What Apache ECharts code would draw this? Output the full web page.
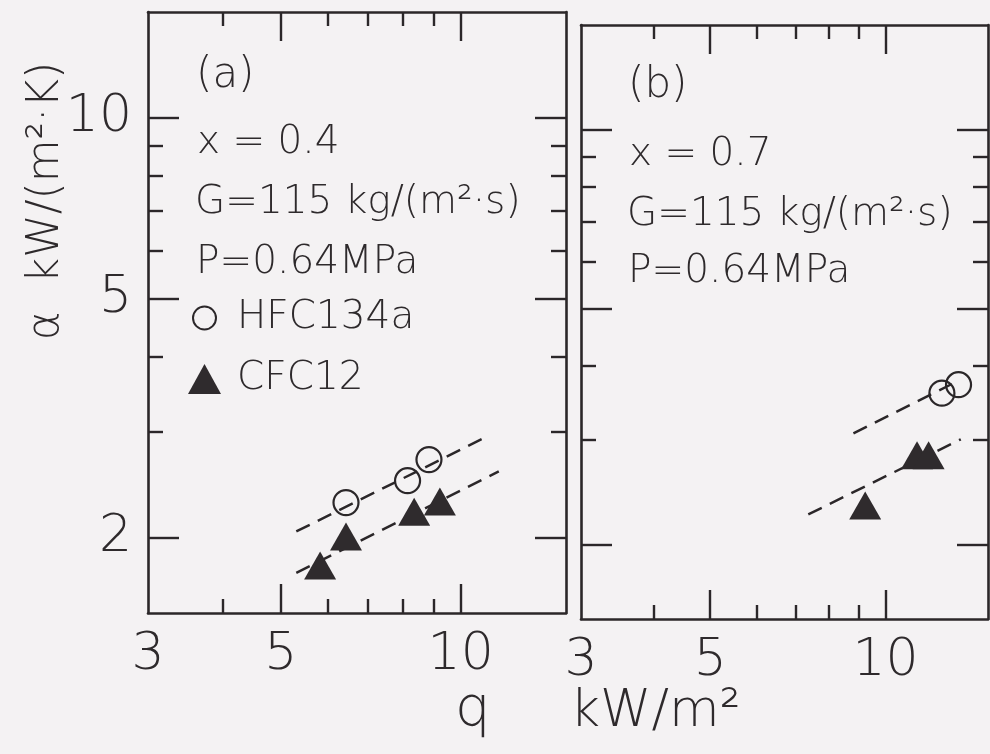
<!DOCTYPE html>
<html><head><meta charset="utf-8">
<script src="https://cdn.jsdelivr.net/npm/echarts@6/dist/echarts.min.js"></script>
<style>html,body{margin:0;padding:0;background:#f4f2f3}#c{width:990px;height:754px}</style>
</head><body><div id="c"></div><script>
// ---- data (q in kW/m2, alpha in kW/(m2 K)) ----
const hfcA_q = [6.43, 8.15, 8.85];
const hfcA_alpha = [2.29, 2.49, 2.70];
const cfcA_q = [5.82, 6.43, 8.36, 9.23];
const cfcA_alpha = [1.80, 2.01, 2.21, 2.30];
const fitHfcA_q = [5.31, 11.15];
const fitHfcA_alpha = [2.05, 2.96];
const fitCfcA_q = [5.31, 11.58];
const fitCfcA_alpha = [1.75, 2.58];
const hfcB_q = [12.5, 13.35];
const hfcB_alpha = [3.60, 3.72];
const cfcB_q = [9.23, 11.33, 11.86];
const cfcB_alpha = [2.33, 2.83, 2.83];
const fitHfcB_q = [8.81, 13.0];
const fitHfcB_alpha = [3.08, 3.73];
const fitCfcB_q = [7.37, 13.47];
const fitCfcB_alpha = [2.25, 3.01];
const xMajorTicks = [5, 10];
const xMinorTicks = [4, 6, 7, 8, 9];
const xTickLabels = [3, 5, 10];
const yMajorTicks = [2, 5, 10];
const yMinorTicks = [3, 4, 6, 7, 8, 9];
const yTickLabels = [2, 5, 10];
const qRange = [3, 15];
const alphaRange = [1.5, 15];

const FONT = "DejaVu Sans";
const FW = 200;
const INK = '#2b2729';
const TXT = '#2e2a2c';

const pairs = (a, b) => a.map((v, i) => [v, b[i]]);

const gridA = {left: 148, top: 12, width: 418, height: 601};
const gridB = {left: 581, top: 25, width: 407, height: 594};
const grids = [gridA, gridA, gridB, gridB].map(g => Object.assign({show: false, containLabel: false}, g));

const xAxes = [], yAxes = [];
function addAxes(gridIndex, major, withXLabels, withYLabels) {
  const xt = major ? xMajorTicks : xMinorTicks;
  const yt = major ? yMajorTicks : yMinorTicks;
  const xl = major ? 29 : 14;
  const yl = major ? 31 : 15;
  ['bottom', 'top'].forEach(pos => {
    const lab = withXLabels && pos === 'bottom';
    xAxes.push({
      type: 'log', logBase: 10, gridIndex, position: pos,
      min: qRange[0], max: qRange[1],
      axisLine: {show: !major, lineStyle: {color: INK, width: 2.6}},
      axisTick: {show: true, inside: true, length: xl, customValues: xt, lineStyle: {color: INK, width: 2.4}},
      axisLabel: lab ? {show: true, customValues: xTickLabels, margin: 16, fontSize: 52,
        fontFamily: FONT, fontWeight: FW, color: TXT, formatter: v => String(Math.round(v))} : {show: false},
      splitLine: {show: false}, minorTick: {show: false}
    });
  });
  ['left', 'right'].forEach(pos => {
    const lab = withYLabels && pos === 'left';
    yAxes.push({
      type: 'log', logBase: 10, gridIndex, position: pos,
      min: alphaRange[0], max: alphaRange[1],
      axisLine: {show: !major, lineStyle: {color: INK, width: 2.6}},
      axisTick: {show: true, inside: true, length: yl, customValues: yt, lineStyle: {color: INK, width: 2.4}},
      axisLabel: lab ? {show: true, customValues: yTickLabels, margin: 16, fontSize: 52,
        fontFamily: FONT, fontWeight: FW, color: TXT, formatter: v => String(Math.round(v))} : {show: false},
      splitLine: {show: false}, minorTick: {show: false}
    });
  });
}
addAxes(0, false, false, false); // x 0,1  y 0,1
addAxes(1, true, true, true);    // x 2,3  y 2,3
addAxes(2, false, false, false); // x 4,5  y 4,5
addAxes(3, true, true, false);   // x 6,7  y 6,7

const dash = {type: [15, 9], width: 2.5, color: INK};
function fit(name, xi, yi, q, a) {
  return {type: 'line', name, xAxisIndex: xi, yAxisIndex: yi, data: pairs(q, a),
    showSymbol: false, symbol: 'none', lineStyle: dash, silent: true, z: 2};
}
function hfc(xi, yi, q, a) {
  return {type: 'scatter', name: 'HFC134a', xAxisIndex: xi, yAxisIndex: yi, data: pairs(q, a),
    symbol: 'circle', symbolSize: 25, z: 3,
    itemStyle: {color: 'transparent', borderColor: INK, borderWidth: 2.2, opacity: 1}};
}
function cfc(xi, yi, q, a) {
  return {type: 'scatter', name: 'CFC12', xAxisIndex: xi, yAxisIndex: yi, data: pairs(q, a),
    symbol: 'triangle', symbolSize: [32, 28], z: 3,
    itemStyle: {color: '#2f2b2d', opacity: 1}};
}

const series = [
  fit('fitHfcA', 0, 0, fitHfcA_q, fitHfcA_alpha),
  fit('fitCfcA', 0, 0, fitCfcA_q, fitCfcA_alpha),
  hfc(0, 0, hfcA_q, hfcA_alpha),
  cfc(0, 0, cfcA_q, cfcA_alpha),
  fit('fitHfcB', 4, 4, fitHfcB_q, fitHfcB_alpha),
  fit('fitCfcB', 4, 4, fitCfcB_q, fitCfcB_alpha),
  hfc(4, 4, hfcB_q, hfcB_alpha),
  cfc(4, 4, cfcB_q, cfcB_alpha)
];

const txt = (text, x, y, size, extra) => Object.assign({
  type: 'text', x, y, silent: true,
  style: {text, fontSize: size, fontFamily: FONT, fontWeight: FW, fill: TXT, align: 'left', verticalAlign: 'middle'}
}, extra || {});

const graphic = [
  txt('(a)', 196, 76, 42),
  txt('x = 0.4', 197, 143, 39),
  txt('G=115 kg/(m²·s)', 195, 203, 39),
  txt('P=0.64MPa', 196, 263, 39),
  txt('(b)', 628, 86, 42),
  txt('x = 0.7', 629, 155, 39),
  txt('G=115 kg/(m²·s)', 627, 215, 39),
  txt('P=0.64MPa', 628, 272, 39),
  Object.assign(txt('α  kW/(m²·K)', 47, 201, 44), {rotation: Math.PI / 2}),
  txt('q', 455, 710, 56),
  txt('kW/m²', 570, 712, 52)
];
graphic[8].style.align = 'center';

const legendText = {fontSize: 39, fontFamily: FONT, fontWeight: FW, color: TXT, lineHeight: 44};
const option = {
  backgroundColor: '#f4f2f3',
  animation: false,
  grid: grids,
  xAxis: xAxes,
  yAxis: yAxes,
  legend: [
    {data: ['HFC134a'], left: 192, top: 296, padding: 0, orient: 'vertical', itemWidth: 23, itemHeight: 23,
      selectedMode: false, textStyle: Object.assign({padding: [0, 0, 0, 16]}, legendText)},
    {data: ['CFC12'], left: 188, top: 357, padding: 0, orient: 'vertical', itemWidth: 33, itemHeight: 30,
      selectedMode: false, textStyle: Object.assign({padding: [0, 0, 0, 11]}, legendText)}
  ],
  graphic,
  series
};
const chart = echarts.init(document.getElementById('c'), null, {renderer: 'canvas'});
chart.setOption(option);
</script></body></html>
